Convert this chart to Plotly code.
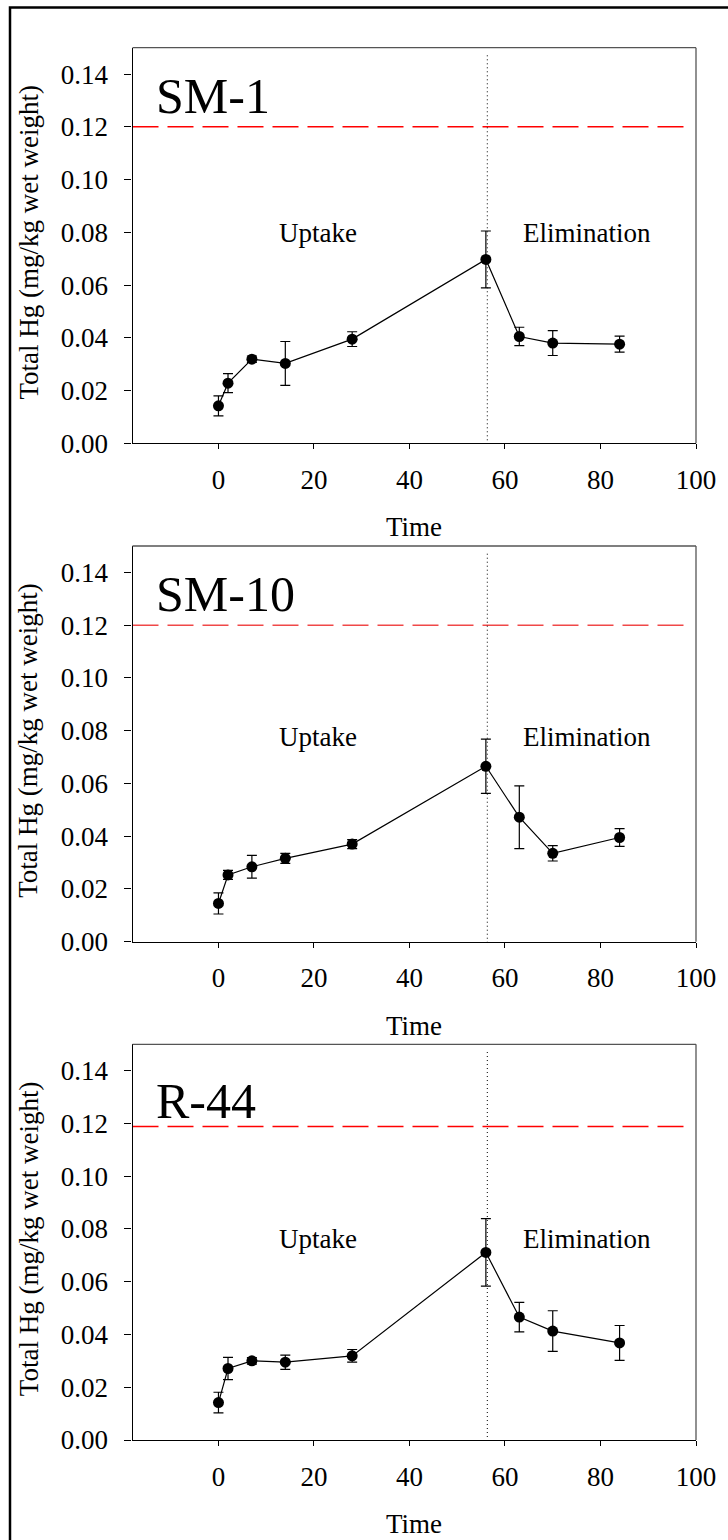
import plotly.graph_objects as go

# ---------------- data ----------------
time_days = [0, 2, 7, 14, 28, 56, 63, 70, 84]

sm1_hg = [0.0142, 0.0228, 0.0319, 0.0303, 0.0395, 0.0697, 0.0405, 0.0380, 0.0376]
sm1_err = [0.0038, 0.0036, 0.0012, 0.0083, 0.0028, 0.0108, 0.0035, 0.0047, 0.0030]

sm10_hg = [0.0145, 0.0253, 0.0284, 0.0316, 0.0370, 0.0665, 0.0472, 0.0335, 0.0395]
sm10_err = [0.0040, 0.0017, 0.0043, 0.0019, 0.0017, 0.0103, 0.0119, 0.0029, 0.0034]

r44_hg = [0.0142, 0.0271, 0.0300, 0.0295, 0.0319, 0.0711, 0.0466, 0.0413, 0.0368]
r44_err = [0.0039, 0.0042, 0.0012, 0.0027, 0.0024, 0.0128, 0.0056, 0.0077, 0.0066]

panel_names = ["SM-1", "SM-10", "R-44"]
guideline_levels = [0.120, 0.120, 0.1188]
phase_boundary = 56.3
x_ticks = [0, 20, 40, 60, 80, 100]
y_ticks = [0.00, 0.02, 0.04, 0.06, 0.08, 0.10, 0.12, 0.14]
y_tick_text = ["0.00", "0.02", "0.04", "0.06", "0.08", "0.10", "0.12", "0.14"]
x_title = "Time"
y_title = "Total Hg (mg/kg wet weight)"
phase_labels = ["Uptake", "Elimination"]

series = [(sm1_hg, sm1_err), (sm10_hg, sm10_err), (r44_hg, r44_err)]

# ---------------- layout geometry (pixels) ----------------
W, H = 728, 1540
FONT = "'Liberation Serif', 'Times New Roman', 'DejaVu Serif', serif"
x_left_px, x_right_px = 132.5, 696.0
panel_px = [(47.7, 443.3), (546.0, 941.7), (1044.3, 1440.0)]  # (top, bottom)
name_y = [0.1317, 0.1319, 0.1286]
phase_y = [0.0797, 0.0776, 0.0762]
red_colors = ["#ff0000", "#f04848", "#ff0000"]

def px_x(p):
    return p / W

def px_y(p):
    return 1 - p / H

fig = go.Figure()
layout = dict(
    width=W, height=H,
    margin=dict(l=0, r=0, t=0, b=0, autoexpand=False),
    paper_bgcolor="white", plot_bgcolor="white",
    showlegend=False,
    font=dict(family=FONT, size=27, color="black"),
)
shapes = []
annotations = []

for i, ((vals, errs), name) in enumerate(zip(series, panel_names)):
    n = "" if i == 0 else str(i + 1)
    xa, ya = "x" + n, "y" + n
    top, bot = panel_px[i]

    # red guideline
    fig.add_trace(go.Scatter(
        x=[-18, 98.8], y=[guideline_levels[i]] * 2, mode="lines",
        line=dict(color=red_colors[i], width=1.5, dash="26px,9px"),
        xaxis=xa, yaxis=ya, hoverinfo="skip"))
    # dotted phase boundary
    fig.add_trace(go.Scatter(
        x=[phase_boundary, phase_boundary], y=[-0.0019, 0.1479], mode="lines",
        line=dict(color="black", width=1, dash="1px,3px"),
        xaxis=xa, yaxis=ya, cliponaxis=False, hoverinfo="skip"))
    # data
    fig.add_trace(go.Scatter(
        x=time_days, y=vals, mode="lines+markers",
        line=dict(color="black", width=1.2),
        marker=dict(color="black", size=11),
        error_y=dict(type="data", array=errs, visible=True,
                     color="black", thickness=1.2, width=5),
        xaxis=xa, yaxis=ya, cliponaxis=False))

    layout["xaxis" + n] = dict(
        domain=[px_x(x_left_px), px_x(x_right_px)], anchor=ya,
        range=[-18, 100], tickmode="array", tickvals=x_ticks,
        ticks="outside", ticklen=5, tickwidth=1.2, tickcolor="black",
        showline=True, linecolor="black", linewidth=1.3, mirror=False,
        showgrid=False, zeroline=False, automargin=False,
        ticklabelstandoff=7,
        tickfont=dict(family=FONT, size=27, color="black"))
    layout["yaxis" + n] = dict(
        domain=[px_y(bot), px_y(top)], anchor=xa,
        range=[0, 0.15], tickmode="array", tickvals=y_ticks, ticktext=y_tick_text,
        ticks="outside", ticklen=7, tickwidth=1.2, tickcolor="black",
        showline=True, linecolor="black", linewidth=1.3, mirror=False,
        showgrid=False, zeroline=False, automargin=False,
        ticklabelstandoff=11,
        tickfont=dict(family=FONT, size=27, color="black"))

    # grey top / right frame
    shapes.append(dict(type="line", xref=xa + " domain", yref=ya + " domain",
                       x0=0, x1=1, y0=1, y1=1, line=dict(color="#555555", width=1.3)))
    shapes.append(dict(type="line", xref=xa + " domain", yref=ya + " domain",
                       x0=1, x1=1, y0=0, y1=1, line=dict(color="#555555", width=1.3)))

    # panel name
    annotations.append(dict(text=name, x=-13.6, y=name_y[i], xref=xa, yref=ya,
                            xanchor="left", yanchor="middle", showarrow=False,
                            font=dict(family=FONT, size=50, color="black")))
    # phase labels
    annotations.append(dict(text=phase_labels[0], x=20.8, y=phase_y[i], xref=xa, yref=ya,
                            xanchor="center", yanchor="middle", showarrow=False,
                            font=dict(family=FONT, size=27, color="black")))
    annotations.append(dict(text=phase_labels[1], x=77.1, y=phase_y[i], xref=xa, yref=ya,
                            xanchor="center", yanchor="middle", showarrow=False,
                            font=dict(family=FONT, size=27, color="black")))
    # axis titles
    annotations.append(dict(text=x_title, x=px_x((x_left_px + x_right_px) / 2),
                            y=px_y(bot + 84), xref="paper", yref="paper",
                            xanchor="center", yanchor="middle", showarrow=False,
                            font=dict(family=FONT, size=27, color="black")))
    annotations.append(dict(text=y_title, x=px_x(28.5), y=px_y((top + bot) / 2 - 3.5),
                            xref="paper", yref="paper", textangle=-90,
                            xanchor="center", yanchor="middle", showarrow=False,
                            font=dict(family=FONT, size=27, color="black")))

# outer frame (cropped on right and bottom)
shapes.append(dict(type="rect", xref="paper", yref="paper",
                   x0=px_x(10), x1=1.05, y0=-0.05, y1=px_y(7.5),
                   line=dict(color="black", width=2.5)))

layout["shapes"] = shapes
layout["annotations"] = annotations
fig.update_layout(**layout)
fig.write_html("out.html")
